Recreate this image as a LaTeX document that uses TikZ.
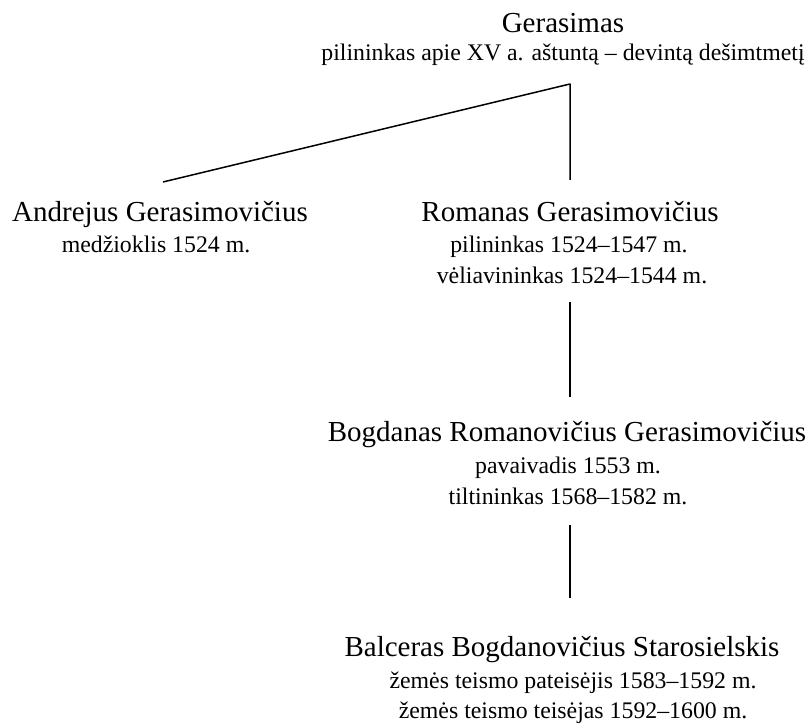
\documentclass[tikz,border=0pt]{standalone}
\usepackage{fontspec}
\setmainfont{Liberation Serif}
\begin{document}
\begin{tikzpicture}[x=1pt,y=1pt]
\definecolor{fillColor}{RGB}{255,255,255}
\definecolor{drawColor}{RGB}{0,0,0}
\tikzset{
  personname/.style={text=drawColor,anchor=base,inner sep=0pt,outer sep=0pt,font=\fontsize{29}{34}\selectfont},
  personrole/.style={text=drawColor,anchor=base,inner sep=0pt,outer sep=0pt,font=\fontsize{23.8}{28}\selectfont},
  link/.style={draw=drawColor,line width=1.5pt,line join=round}
}
\path[use as bounding box,fill=fillColor] (0,0) rectangle (808,725);

% names
\node[personname] (gerasimas) at (563,692) {Gerasimas};
\node[personname] (andrejus) at (160,503) {Andrejus Gerasimovičius};
\node[personname] (romanas) at (570,503) {Romanas Gerasimovičius};
\node[personname] (bogdanas) at (567,283) {Bogdanas Romanovičius Gerasimovičius};
\node[personname] (balceras) at (562,68) {Balceras Bogdanovičius Starosielskis};

% roles
\node[personrole] (gerasimas-r1) at (563,664) {pilininkas apie XV a. aštuntą – devintą dešimtmetį};
\node[personrole] (andrejus-r1) at (156,472) {medžioklis 1524 m.};
\node[personrole] (romanas-r1) at (569,472) {pilininkas 1524–1547 m.};
\node[personrole] (romanas-r2) at (572,441) {vėliavininkas 1524–1544 m.};
\node[personrole] (bogdanas-r1) at (568,251) {pavaivadis 1553 m.};
\node[personrole] (bogdanas-r2) at (568,220) {tiltininkas 1568–1582 m.};
\node[personrole] (balceras-r1) at (573,36) {žemės teismo pateisėjis 1583–1592 m.};
\node[personrole] (balceras-r2) at (573,6) {žemės teismo teisėjas 1592–1600 m.};

% connectors
\coordinate (fork) at (570,641);
\coordinate (andrejus-top) at (163,543);
\coordinate (romanas-top) at (570,545);
\coordinate (romanas-bottom) at (570,423);
\coordinate (bogdanas-top) at (570,328);
\coordinate (bogdanas-bottom) at (570,200);
\coordinate (balceras-top) at (570,127);
\path[link] (andrejus-top) -- (fork) -- (romanas-top);
\path[link] (romanas-bottom) -- (bogdanas-top);
\path[link] (bogdanas-bottom) -- (balceras-top);
\end{tikzpicture}
\end{document}
